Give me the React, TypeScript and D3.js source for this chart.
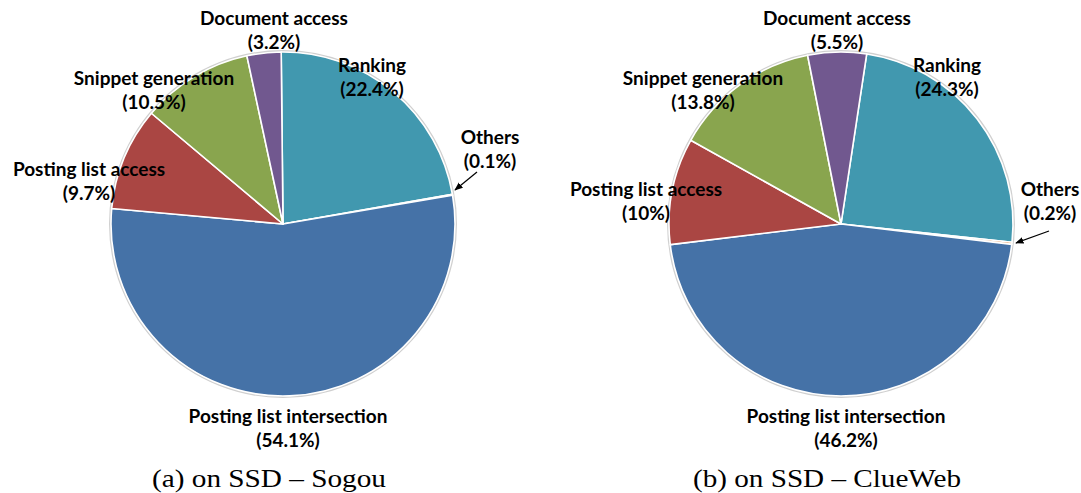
import React from "react";
import * as d3 from "d3";

const categories = [
  "Ranking",
  "Others",
  "Posting list intersection",
  "Posting list access",
  "Snippet generation",
  "Document access",
];
const sogouValues = [22.4, 0.1, 54.1, 9.7, 10.5, 3.2];
const clueWebValues = [24.3, 0.2, 46.2, 10, 13.8, 5.5];
const sliceColors = ["#4198AF", "#DB843D", "#4572A7", "#AA4643", "#89A54E", "#71588F"];
const captions = ["(a) on SSD \u2013 Sogou", "(b) on SSD \u2013 ClueWeb"];

// layout (label centres, arrows) for each pie
const layouts = [
  {
    cx: 283,
    cy: 224,
    r: 172,
    startDeg: -0.6,
    captionX: 269,
    captionW: 234,
    labels: [
      [372, 65],
      [490, 137],
      [288, 416],
      [89, 169],
      [154, 78],
      [274, 18],
    ],
    arrow: [477, 172, 455, 190],
  },
  {
    cx: 841,
    cy: 224,
    r: 172,
    startDeg: 8.6,
    captionX: 827,
    captionW: 268,
    labels: [
      [947, 65],
      [1050, 189],
      [846, 416],
      [646, 189],
      [703, 78],
      [837, 18],
    ],
    arrow: [1049, 231, 1016, 243],
  },
];

function Pie({ values, layout, caption, idx }: any) {
  const start = (layout.startDeg * Math.PI) / 180;
  const pie = d3
    .pie<number>()
    .sort(null)
    .value((d) => d)
    .startAngle(start)
    .endAngle(start + 2 * Math.PI);
  const arcs = pie(values);
  const arc = d3.arc<d3.PieArcDatum<number>>().innerRadius(0).outerRadius(layout.r);
  const [ax1, ay1, ax2, ay2] = layout.arrow;
  return (
    <g>
      <circle cx={layout.cx} cy={layout.cy} r={layout.r + 1} fill="none" stroke="#d0d0d0" strokeWidth={2} />
      <g transform={`translate(${layout.cx},${layout.cy})`}>
        {arcs.map((a, i) => (
          <path key={i} d={arc(a) || ""} fill={sliceColors[i]} stroke="#ffffff" strokeWidth={1.6} strokeLinejoin="round" />
        ))}
      </g>
      {categories.map((c, i) => {
        const [x, y] = layout.labels[i];
        return (
          <text
            key={i}
            x={x}
            textAnchor="middle"
            fontFamily="Lato, 'Open Sans', sans-serif"
            fontWeight={700}
            fontSize={19}
            fill="#000"
          >
            <tspan x={x} y={y + 7}>{c}</tspan>
            <tspan x={x} y={y + 31}>{`(${values[i]}%)`}</tspan>
          </text>
        );
      })}
      <line x1={ax1} y1={ay1} x2={ax2} y2={ay2} stroke="#000" strokeWidth={1.2} markerEnd={`url(#arrow${idx})`} />
      <defs>
        <marker id={`arrow${idx}`} viewBox="0 0 10 10" refX={9} refY={5} markerWidth={7} markerHeight={7} orient="auto">
          <path d="M0,1 L10,5 L0,9 Z" fill="#000" />
        </marker>
      </defs>
      <text
        x={layout.captionX}
        y={487}
        textAnchor="middle"
        fontFamily="'Liberation Serif', 'DejaVu Serif', serif"
        fontSize={25}
        textLength={layout.captionW}
        lengthAdjust="spacingAndGlyphs"
        fill="#000"
      >
        {caption}
      </text>
    </g>
  );
}

export default function App() {
  return (
    <div style={{ position: "absolute", left: 0, top: 0 }}>
      <svg width={1081} height={493} style={{ display: "block", background: "#fff" }}>
        <rect width={1081} height={493} fill="#fff" />
        <Pie values={sogouValues} layout={layouts[0]} caption={captions[0]} idx={0} />
        <Pie values={clueWebValues} layout={layouts[1]} caption={captions[1]} idx={1} />
      </svg>
    </div>
  );
}
